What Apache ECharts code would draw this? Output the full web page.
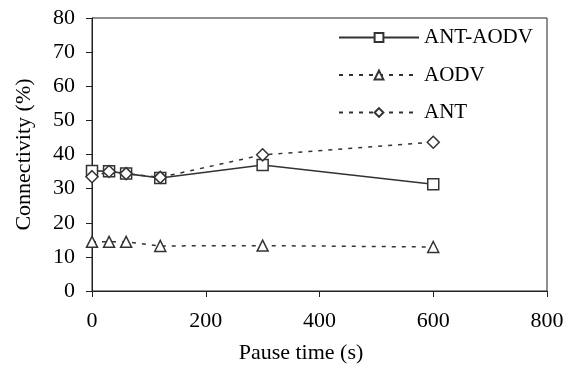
<!DOCTYPE html>
<html>
<head>
<meta charset="utf-8">
<script src="https://cdn.jsdelivr.net/npm/echarts@6/dist/echarts.min.js"></script>
<style>html,body{margin:0;padding:0;background:#fff;}#c{width:571px;height:369px;}</style>
</head>
<body>
<div id="c"></div>
<script>
var pauseTimes = [0, 30, 60, 120, 300, 600];
var antAodv = [35.2, 35.1, 34.4, 33.1, 36.9, 31.3];
var aodv = [14.4, 14.4, 14.4, 13.2, 13.3, 12.9];
var ant = [33.5, 35.0, 34.4, 33.3, 39.9, 43.6];
var seriesNames = ['ANT-AODV', 'AODV', 'ANT'];

function pairs(ys) { return pauseTimes.map(function (x, i) { return [x, ys[i]]; }); }

var font = 'Liberation Serif, Times New Roman, serif';
var chart = echarts.init(document.getElementById('c'), null, {renderer: 'canvas'});
var lineCol = '#333';
chart.setOption({
  backgroundColor: '#fff',
  animation: false,
  grid: {left: 92, right: 24, top: 18, bottom: 76, show: true, borderColor: '#222', borderWidth: 1, backgroundColor: 'transparent'},
  legend: {
    orient: 'vertical', left: 333, top: 22, itemWidth: 80, itemHeight: 11, itemGap: 16.5,
    textStyle: {fontFamily: font, fontSize: 21, color: '#000'},
    data: seriesNames
  },
  xAxis: {
    type: 'value', min: 0, max: 800, interval: 200,
    name: 'Pause time (s)', nameLocation: 'middle', nameGap: 51,
    nameTextStyle: {fontFamily: font, fontSize: 22, color: '#000', padding: [0, 37, 0, 0]},
    axisLine: {lineStyle: {color: '#222', width: 1}},
    axisTick: {inside: false, length: 6, lineStyle: {color: '#222'}},
    axisLabel: {fontFamily: font, fontSize: 22, color: '#000', margin: 19},
    splitLine: {show: false}
  },
  yAxis: {
    type: 'value', min: 0, max: 80, interval: 10,
    name: 'Connectivity (%)', nameLocation: 'middle', nameGap: 57, nameRotate: 90,
    nameTextStyle: {fontFamily: font, fontSize: 22, color: '#000'},
    axisLine: {show: true, lineStyle: {color: '#222', width: 1}},
    axisTick: {show: true, inside: false, length: 6, lineStyle: {color: '#222'}},
    axisLabel: {fontFamily: font, fontSize: 22, color: '#000', margin: 17},
    splitLine: {show: false}
  },
  series: [
    {name: seriesNames[0], type: 'line', data: pairs(antAodv), symbol: 'rect', symbolSize: 11,
     lineStyle: {color: lineCol, width: 1.6, type: 'solid'},
     itemStyle: {color: '#fff', borderColor: lineCol, borderWidth: 1.5}},
    {name: seriesNames[1], type: 'line', data: pairs(aodv), symbol: 'triangle', symbolSize: 11,
     lineStyle: {color: lineCol, width: 1.5, type: [4, 6]},
     itemStyle: {color: '#fff', borderColor: lineCol, borderWidth: 1.5}},
    {name: seriesNames[2], type: 'line', data: pairs(ant), symbol: 'diamond', symbolSize: 12,
     lineStyle: {color: lineCol, width: 1.5, type: [4, 6]},
     itemStyle: {color: '#fff', borderColor: lineCol, borderWidth: 1.5}}
  ]
});
</script>
</body>
</html>
